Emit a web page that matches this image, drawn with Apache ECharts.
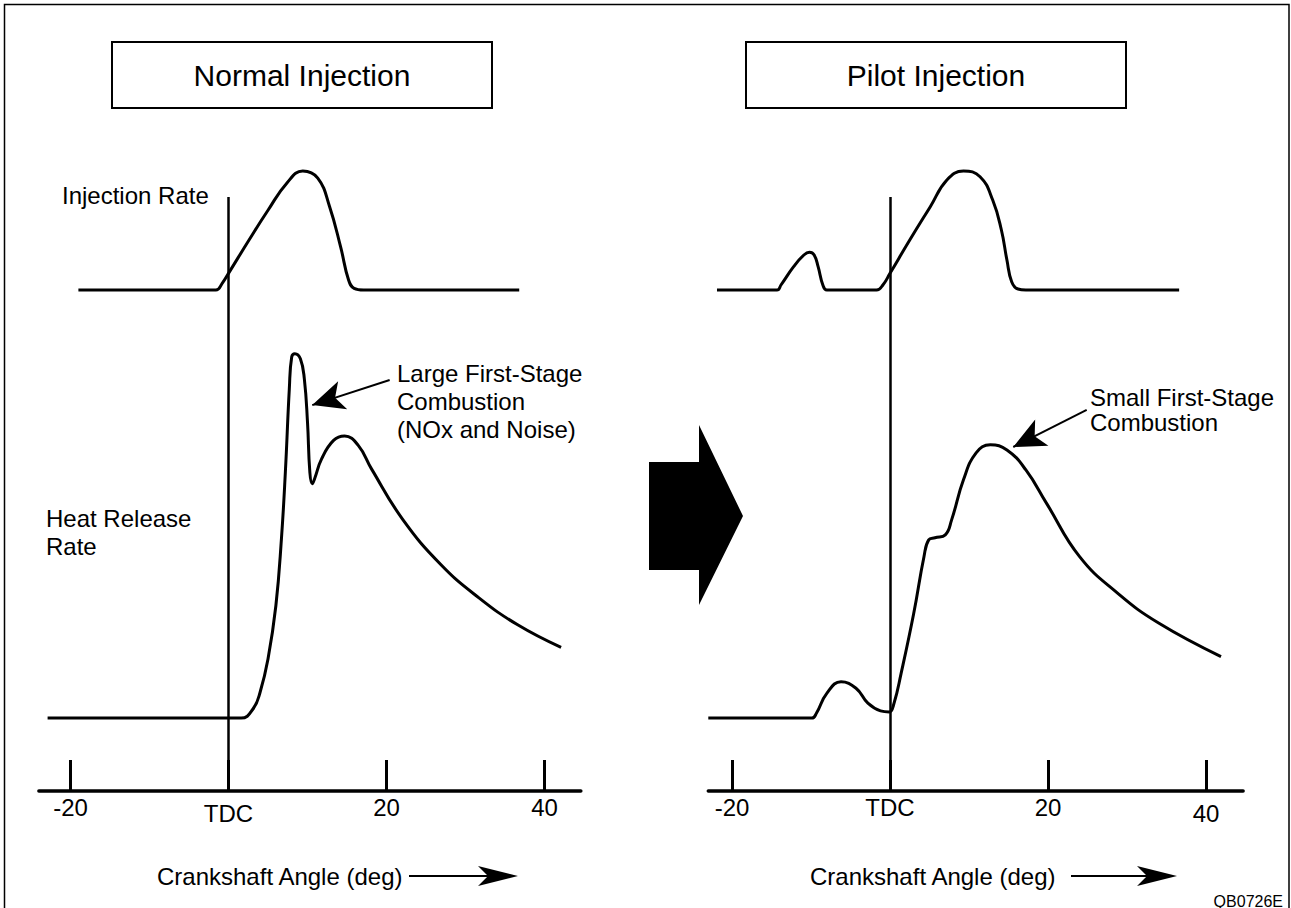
<!DOCTYPE html>
<html>
<head>
<meta charset="utf-8">
<title>Normal vs Pilot Injection</title>
<script src="https://cdn.jsdelivr.net/npm/echarts@6/dist/echarts.min.js"></script>
<style>
  html, body { margin: 0; padding: 0; background: #fff; }
  #chart { width: 1291px; height: 908px; }
</style>
</head>
<body>
<div id="chart"></div>
<script>
// crank angle (deg) vs relative rate
const injNormal = [[-19.0, 0], [-1.6, 0], [-0.8, 0.056], [0, 0.14], [2.6, 0.42], [5.0, 0.67], [7.4, 0.9], [9.4, 1.0], [11.3, 0.94], [12.8, 0.7], [14.2, 0.36], [15.2, 0.084], [15.9, 0.014], [17.1, 0], [36.8, 0]];
const heatNormal = [[-22.9, 0], [1.6, 0], [3.1, 0.025], [4.0, 0.071], [5.0, 0.162], [6.0, 0.309], [6.7, 0.492], [7.2, 0.676], [7.7, 0.904], [8.0, 0.991], [8.4, 1.0], [9.1, 0.986], [9.6, 0.931], [10.0, 0.812], [10.3, 0.674], [10.6, 0.643], [10.9, 0.657], [11.8, 0.712], [13.3, 0.762], [14.7, 0.774], [16.4, 0.749], [18.1, 0.684], [22.0, 0.547], [26.9, 0.421], [31.7, 0.33], [36.6, 0.256], [42.1, 0.194]];
const injPilot = [[-21.9, 0], [-14.3, 0], [-13.8, 0.042], [-12.2, 0.196], [-10.9, 0.294], [-10.2, 0.317], [-9.6, 0.294], [-9.1, 0.196], [-8.5, 0.042], [-8.0, 0], [-1.7, 0], [-0.9, 0.042], [0, 0.14], [2.5, 0.42], [5.1, 0.7], [7.2, 0.924], [9.3, 1.0], [11.4, 0.952], [13.0, 0.756], [14.1, 0.504], [14.8, 0.252], [15.4, 0.07], [16.2, 0.008], [17.2, 0], [36.6, 0]];
const heatPilot = [[-23.0, 0], [-9.9, 0], [-9.3, 0.014], [-8.0, 0.068], [-6.2, 0.1], [-4.3, 0.082], [-2.8, 0.041], [-1.2, 0.02], [-0.1, 0.017], [0.5, 0.04], [1.4, 0.122], [3.0, 0.287], [4.3, 0.443], [4.9, 0.489], [5.7, 0.495], [7.0, 0.503], [7.8, 0.544], [9.3, 0.654], [10.9, 0.728], [12.7, 0.75], [14.8, 0.736], [17.2, 0.681], [19.8, 0.59], [24.0, 0.443], [28.8, 0.343], [34.0, 0.261], [41.9, 0.169]];

const tickValues = [-20, 0, 20, 40];
// annotation arrows: [from, to] in (deg, rate)
const noteNormal = [[20.4, 0.928], [10.6, 0.859]];
const notePilot = [[24.9, 0.846], [15.6, 0.744]];

const FONT = '"Liberation Sans", Arial, sans-serif';
const PX_PER_DEG = 7.9;

// panels: x range, pixel position of TDC, labels nudged down a little
const panels = [
  { min: -24, max: 44.6, tdc: 228.5, lower: [0] },
  { min: -23, max: 44.7, tdc: 890, lower: [40] }
];

const chart = echarts.init(document.getElementById('chart'), null, { renderer: 'svg' });

const grids = [], xAxes = [], yAxes = [];
panels.forEach((p, i) => {
  const left = p.tdc + p.min * PX_PER_DEG;
  const width = (p.max - p.min) * PX_PER_DEG;
  // heat release grid (carries the crank axis)
  grids.push({ left: left, width: width, top: 197, height: 594 });
  // injection rate grid
  grids.push({ left: left, width: width, top: 159.1, height: 142.8 });
  xAxes.push({
    type: 'value', gridIndex: i * 2, min: p.min, max: p.max,
    axisLine: { onZero: false, lineStyle: { color: '#000', width: 3.5 } },
    axisTick: { customValues: tickValues, inside: true, length: 31, lineStyle: { color: '#000', width: 3 } },
    axisLabel: {
      customValues: tickValues, margin: 4, color: '#000', fontSize: 24, fontFamily: FONT,
      formatter: v => {
        const s = v === 0 ? 'TDC' : String(v);
        return p.lower.indexOf(v) >= 0 ? '{t|' + s + '}' : s;
      },
      rich: { t: { fontSize: 24, fontFamily: FONT, color: '#000', padding: [6, 0, 0, 0] } }
    },
    splitLine: { show: false }
  });
  xAxes.push({ type: 'value', gridIndex: i * 2 + 1, min: p.min, max: p.max, show: false });
  yAxes.push({ type: 'value', gridIndex: i * 2, min: -0.2, max: 1.43, show: false });
  yAxes.push({ type: 'value', gridIndex: i * 2 + 1, min: -0.1, max: 1.1, show: false });
});

function curve(name, data, idx, note) {
  const s = {
    name: name, type: 'line', data: data, xAxisIndex: idx, yAxisIndex: idx,
    smooth: 0.45, showSymbol: false, clip: false,
    lineStyle: { color: '#000', width: 3 }
  };
  if (note) {
    s.markLine = {
      silent: true, symbol: ['none', 'none'], label: { show: false },
      data: [
        { xAxis: 0, lineStyle: { color: '#000', width: 2.5, type: 'solid' } },
        [
          { coord: note[0], symbol: 'none', lineStyle: { color: '#000', width: 2, type: 'solid' } },
          { coord: note[1], symbol: 'arrow', symbolSize: [22, 32] }
        ]
      ]
    };
  }
  return s;
}

function text(str, x, y, size, extra) {
  return {
    type: 'text', silent: true,
    style: Object.assign({ text: str, x: x, y: y, fontSize: size, fontFamily: FONT, fill: '#000', verticalAlign: 'top', lineHeight: 28 }, extra || {})
  };
}

function bottomArrow(x1, x2, y) {
  return [
    { type: 'line', silent: true, shape: { x1: x1, y1: y, x2: x2 - 20, y2: y }, style: { stroke: '#000', lineWidth: 2 } },
    { type: 'polygon', silent: true, shape: { points: [[x2, y], [x2 - 40, y - 10], [x2 - 30, y], [x2 - 40, y + 10]] }, style: { fill: '#000' } }
  ];
}

const titleBox = (x, label) => [
  { type: 'rect', silent: true, shape: { x: x, y: 42, width: 380, height: 66 }, style: { fill: '#fff', stroke: '#000', lineWidth: 2 } },
  text(label, x + 190, 75, 30, { align: 'center', verticalAlign: 'middle' })
];

chart.setOption({
  animation: false,
  backgroundColor: '#fff',
  grid: grids,
  xAxis: xAxes,
  yAxis: yAxes,
  series: [
    curve('Heat Release Rate (normal)', heatNormal, 0, noteNormal),
    curve('Injection Rate (normal)', injNormal, 1),
    curve('Heat Release Rate (pilot)', heatPilot, 2, notePilot),
    curve('Injection Rate (pilot)', injPilot, 3)
  ],
  graphic: [
    { type: 'rect', silent: true, shape: { x: 4.5, y: 4.5, width: 1284.5, height: 912 }, style: { fill: 'none', stroke: '#000', lineWidth: 1.5 } },
    ...titleBox(112, 'Normal Injection'),
    ...titleBox(746, 'Pilot Injection'),
    text('Injection Rate', 62, 181, 24),
    text('Heat Release\nRate', 46, 504, 24),
    text('Large First-Stage\nCombustion\n(NOx and Noise)', 397, 359, 24),
    text('Small First-Stage\nCombustion', 1090, 385, 24, { lineHeight: 25 }),
    text('Crankshaft Angle (deg)', 157, 876, 24, { verticalAlign: 'middle' }),
    ...bottomArrow(409, 518, 876),
    text('Crankshaft Angle (deg)', 810, 876, 24, { verticalAlign: 'middle' }),
    ...bottomArrow(1071, 1177, 876),
    text('QB0726E', 1283, 901, 16, { align: 'right', verticalAlign: 'middle' }),
    { type: 'polygon', silent: true, shape: { points: [[649, 462], [699, 462], [699, 425], [743, 516], [699, 605], [699, 570], [649, 570]] }, style: { fill: '#000' } }
  ]
});
</script>
</body>
</html>
